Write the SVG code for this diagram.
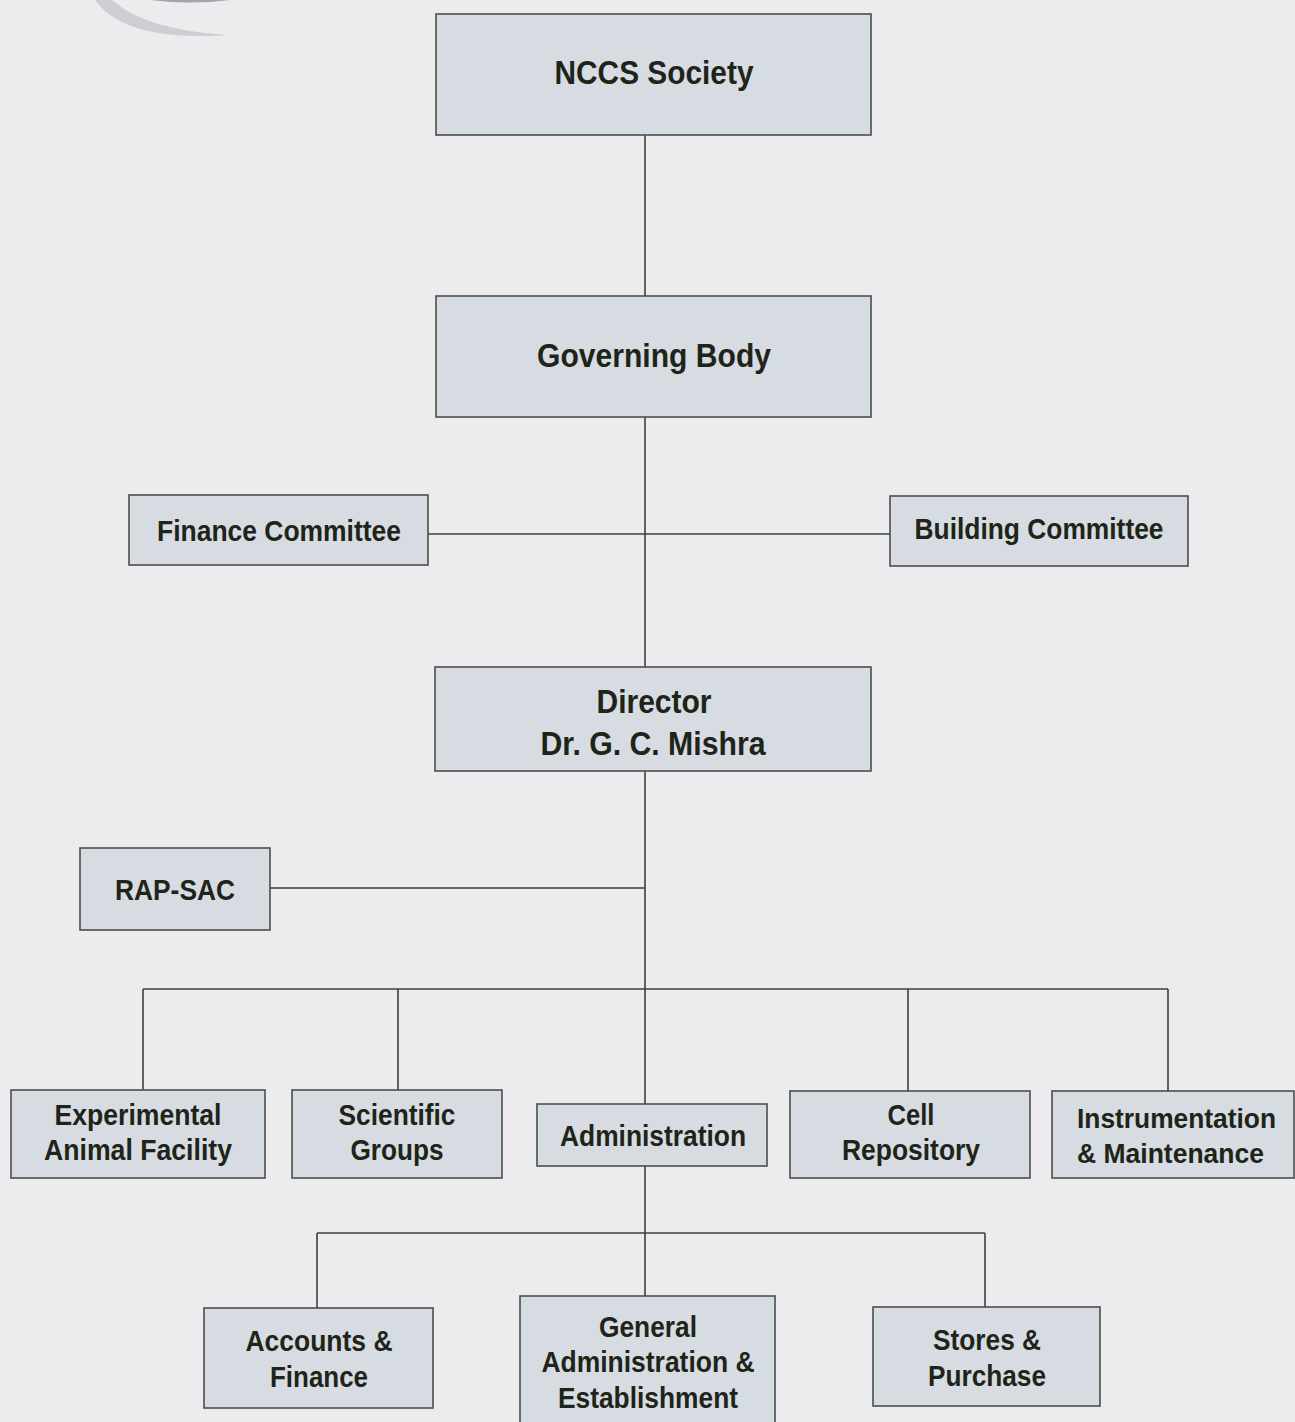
<svg xmlns="http://www.w3.org/2000/svg" width="1295" height="1422" viewBox="0 0 1295 1422">
  <style>
    .box { fill: #d7dbe2; stroke: #4a4e4a; stroke-width: 1.6; }
    .lbl { font-family: "Liberation Sans", Arial, sans-serif; font-weight: bold; fill: #1f2419; text-anchor: middle; }
    .start { text-anchor: start; }
    .big { font-size: 33px; }
    .mid { font-size: 30px; }
    .sm { font-size: 28px; }
    .wire { stroke: #3e403e; stroke-width: 1.6; fill: none; }
  </style>

  <!-- page background -->
  <rect x="0" y="0" width="1295" height="1422" fill="#ececef"/>

  <!-- corner emblem fragment -->
  <g id="emblem">
    <path d="M 95 0 Q 125 42 228 35 Q 145 30 112 0 Z" fill="#cdcdd2"/>
    <path d="M 150 0 Q 190 5 230 0 Z" fill="#a4a4aa"/>
  </g>

  <!-- connectors -->
  <g id="connectors" class="wire">
    <line x1="645" y1="135" x2="645" y2="296"/>
    <line x1="645" y1="417" x2="645" y2="667"/>
    <line x1="428" y1="534" x2="890" y2="534"/>
    <line x1="645" y1="771" x2="645" y2="1104"/>
    <line x1="270" y1="888" x2="645" y2="888"/>
    <line x1="143" y1="989" x2="1168" y2="989"/>
    <line x1="143" y1="989" x2="143" y2="1090"/>
    <line x1="398" y1="989" x2="398" y2="1090"/>
    <line x1="908" y1="989" x2="908" y2="1091"/>
    <line x1="1168" y1="989" x2="1168" y2="1091"/>
    <line x1="645" y1="1166" x2="645" y2="1296"/>
    <line x1="317" y1="1233" x2="985" y2="1233"/>
    <line x1="317" y1="1233" x2="317" y2="1308"/>
    <line x1="985" y1="1233" x2="985" y2="1307"/>
  </g>

  <g id="nccs-society">
    <rect class="box" x="436" y="14" width="435" height="121"/>
    <text class="lbl big" x="654" y="84" textLength="199" lengthAdjust="spacingAndGlyphs">NCCS Society</text>
  </g>

  <g id="governing-body">
    <rect class="box" x="436" y="296" width="435" height="121"/>
    <text class="lbl big" x="654" y="367" textLength="234" lengthAdjust="spacingAndGlyphs">Governing Body</text>
  </g>

  <g id="finance-committee">
    <rect class="box" x="129" y="495" width="299" height="70"/>
    <text class="lbl mid" x="279" y="541" textLength="244" lengthAdjust="spacingAndGlyphs">Finance Committee</text>
  </g>

  <g id="building-committee">
    <rect class="box" x="890" y="496" width="298" height="70"/>
    <text class="lbl mid" x="1039" y="539" textLength="249" lengthAdjust="spacingAndGlyphs">Building Committee</text>
  </g>

  <g id="director">
    <rect class="box" x="435" y="667" width="436" height="104"/>
    <text class="lbl big" x="654" y="713" textLength="115" lengthAdjust="spacingAndGlyphs">Director</text>
    <text class="lbl big" x="653" y="755" textLength="225" lengthAdjust="spacingAndGlyphs">Dr. G. C. Mishra</text>
  </g>

  <g id="rap-sac">
    <rect class="box" x="80" y="848" width="190" height="82"/>
    <text class="lbl mid" x="175" y="900" textLength="120" lengthAdjust="spacingAndGlyphs">RAP-SAC</text>
  </g>

  <g id="experimental-animal-facility">
    <rect class="box" x="11" y="1090" width="254" height="88"/>
    <text class="lbl mid" x="138" y="1125" textLength="167" lengthAdjust="spacingAndGlyphs">Experimental</text>
    <text class="lbl mid" x="138" y="1160" textLength="188" lengthAdjust="spacingAndGlyphs">Animal Facility</text>
  </g>

  <g id="scientific-groups">
    <rect class="box" x="292" y="1090" width="210" height="88"/>
    <text class="lbl mid" x="397" y="1125" textLength="117" lengthAdjust="spacingAndGlyphs">Scientific</text>
    <text class="lbl mid" x="397" y="1160" textLength="93" lengthAdjust="spacingAndGlyphs">Groups</text>
  </g>

  <g id="administration">
    <rect class="box" x="537" y="1104" width="230" height="62"/>
    <text class="lbl mid" x="653" y="1146" textLength="186" lengthAdjust="spacingAndGlyphs">Administration</text>
  </g>

  <g id="cell-repository">
    <rect class="box" x="790" y="1091" width="240" height="87"/>
    <text class="lbl mid" x="911" y="1125" textLength="47" lengthAdjust="spacingAndGlyphs">Cell</text>
    <text class="lbl mid" x="911" y="1160" textLength="138" lengthAdjust="spacingAndGlyphs">Repository</text>
  </g>

  <g id="instrumentation-maintenance">
    <rect class="box" x="1052" y="1091" width="242" height="87"/>
    <text class="lbl sm start" x="1077" y="1128" textLength="199" lengthAdjust="spacingAndGlyphs">Instrumentation</text>
    <text class="lbl sm start" x="1077" y="1163" textLength="187" lengthAdjust="spacingAndGlyphs">&amp; Maintenance</text>
  </g>

  <g id="accounts-finance">
    <rect class="box" x="204" y="1308" width="229" height="100"/>
    <text class="lbl mid" x="319" y="1351" textLength="147" lengthAdjust="spacingAndGlyphs">Accounts &amp;</text>
    <text class="lbl mid" x="319" y="1387" textLength="98" lengthAdjust="spacingAndGlyphs">Finance</text>
  </g>

  <g id="general-administration-establishment">
    <rect class="box" x="520" y="1296" width="255" height="140"/>
    <text class="lbl mid" x="648" y="1337" textLength="98" lengthAdjust="spacingAndGlyphs">General</text>
    <text class="lbl mid" x="648" y="1372" textLength="213" lengthAdjust="spacingAndGlyphs">Administration &amp;</text>
    <text class="lbl mid" x="648" y="1408" textLength="180" lengthAdjust="spacingAndGlyphs">Establishment</text>
  </g>

  <g id="stores-purchase">
    <rect class="box" x="873" y="1307" width="227" height="99"/>
    <text class="lbl mid" x="987" y="1350" textLength="108" lengthAdjust="spacingAndGlyphs">Stores &amp;</text>
    <text class="lbl mid" x="987" y="1386" textLength="118" lengthAdjust="spacingAndGlyphs">Purchase</text>
  </g>
</svg>
